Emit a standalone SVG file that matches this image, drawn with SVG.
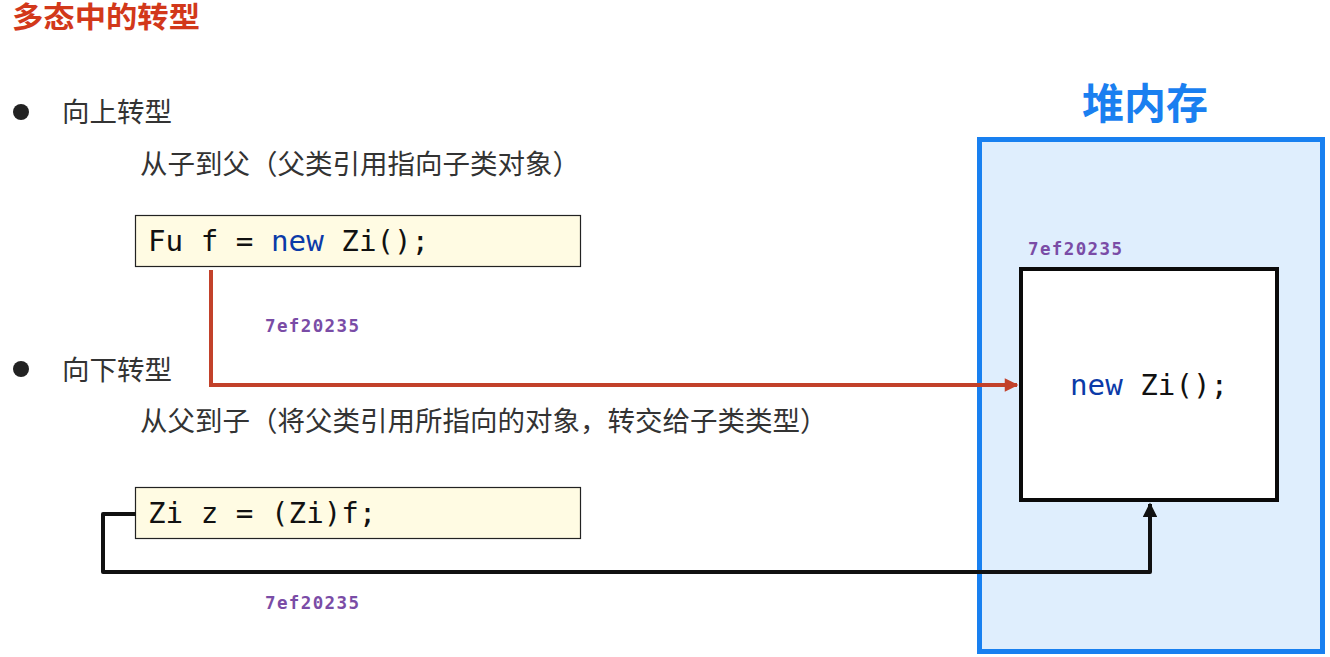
<svg xmlns="http://www.w3.org/2000/svg" width="1330" height="657" viewBox="0 0 1330 657">
<defs>
<style>
.cn{font-family:"Noto Sans CJK SC","Noto Sans",sans-serif;}
.body{font-size:27.5px;fill:#333333;}
.code{font-family:"DejaVu Sans Mono","Liberation Mono",monospace;font-size:29.2px;fill:#111111;}
.kw{fill:#0b3aa8;}
.addr{font-family:"DejaVu Sans Mono","Liberation Mono",monospace;font-size:17.5px;font-weight:bold;fill:#7a4ca6;}
.codebox{fill:#fffbe3;stroke:#222222;stroke-width:1.2;}
</style>
<marker id="arrRed" viewBox="0 0 10 10" refX="9" refY="5" markerWidth="4" markerHeight="3.4" markerUnits="strokeWidth" orient="auto">
<path d="M0,0 L10,5 L0,10 z" fill="#c2412a"/>
</marker>
<marker id="arrBlk" viewBox="0 0 10 10" refX="9" refY="5" markerWidth="4" markerHeight="3.6" markerUnits="strokeWidth" orient="auto">
<path d="M0,0 L10,5 L0,10 z" fill="#111111"/>
</marker>
</defs>
<rect width="1330" height="657" fill="#ffffff"/>

<g id="title">
<text x="12" y="28" class="cn" font-size="29" font-weight="bold" fill="#d2381a" textLength="188" lengthAdjust="spacingAndGlyphs">多态中的转型</text>
</g>

<g id="upcast">
<circle cx="21" cy="112" r="8" fill="#222222"/>
<text x="62" y="122" class="cn body">向上转型</text>
<text x="140" y="174" class="cn body">从子到父（父类引用指向子类对象）</text>
</g>

<g id="code-up">
<rect x="135.5" y="215.5" width="445" height="51" class="codebox"/>
<text x="148" y="251" class="code">Fu f = <tspan class="kw">new</tspan> Zi();</text>
</g>

<g id="downcast">
<circle cx="21" cy="369" r="8" fill="#222222"/>
<text x="62" y="380" class="cn body">向下转型</text>
<text x="140" y="431" class="cn body">从父到子（将父类引用所指向的对象，转交给子类类型）</text>
</g>

<g id="code-down">
<rect x="135.5" y="487.5" width="445" height="51" class="codebox"/>
<text x="148" y="523" class="code">Zi z = (Zi)f;</text>
</g>

<g id="heap">
<rect x="979.5" y="139.5" width="343" height="512" fill="#dfeefd" stroke="#1880f0" stroke-width="5"/>
<text x="1145" y="119" class="cn" font-size="42" font-weight="bold" fill="#1a7ff0" text-anchor="middle">堆内存</text>
</g>

<g id="object">
<rect x="1021" y="269" width="256" height="231" fill="#ffffff" stroke="#0a0a0a" stroke-width="4"/>
<text x="1028" y="255" class="addr" textLength="94">7ef20235</text>
<text x="1070" y="395" class="code"><tspan class="kw">new</tspan> Zi();</text>
</g>

<g id="connectors" fill="none">
<polyline points="211,270 211,385 1017,385" stroke="#c2412a" stroke-width="4" marker-end="url(#arrRed)"/>
<polyline points="136,514 103,514 103,572 1150,572 1150,504" stroke="#111111" stroke-width="4" stroke-linejoin="round" marker-end="url(#arrBlk)"/>
</g>

<g id="labels">
<text x="265" y="332" class="addr" textLength="94">7ef20235</text>
<text x="265" y="609" class="addr" textLength="94">7ef20235</text>
</g>
</svg>
